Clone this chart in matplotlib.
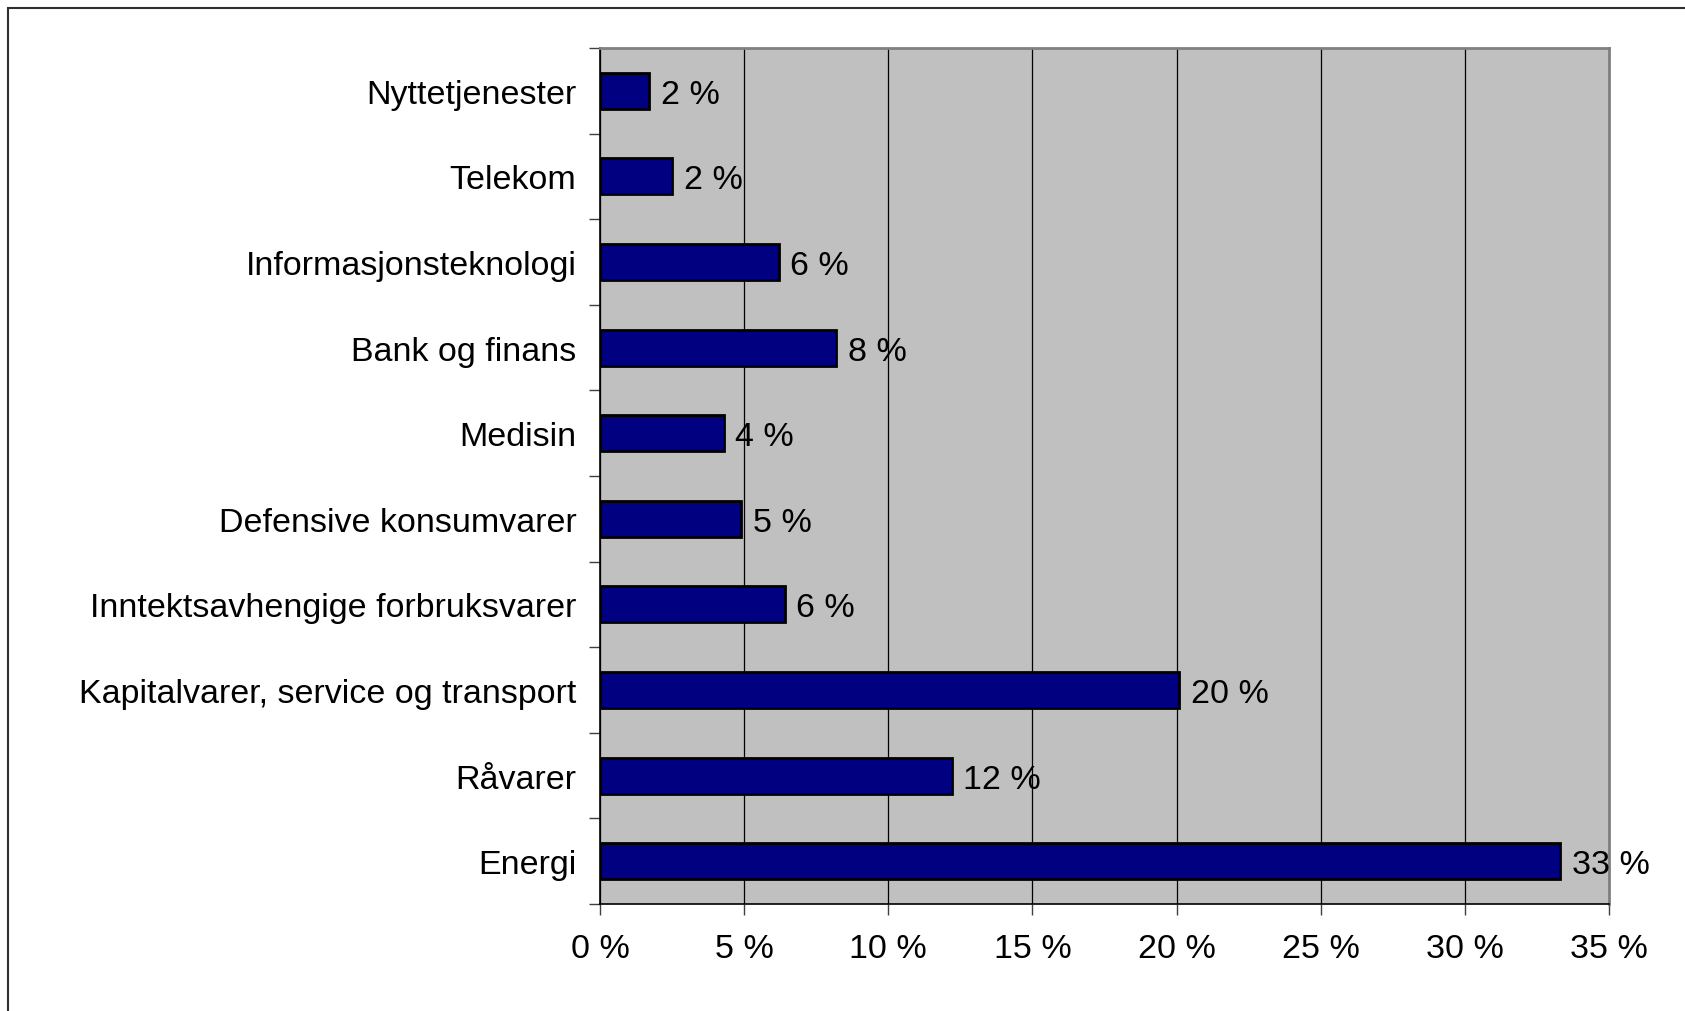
import matplotlib.pyplot as plt
from matplotlib.patches import Rectangle

plt.rcParams['font.family'] = ['Liberation Sans', 'DejaVu Sans']

# Data (bottom to top)
sectors = ['Energi', 'Råvarer', 'Kapitalvarer, service og transport',
           'Inntektsavhengige forbruksvarer', 'Defensive konsumvarer',
           'Medisin', 'Bank og finans', 'Informasjonsteknologi',
           'Telekom', 'Nyttetjenester']
shares = [33.3, 12.2, 20.1, 6.4, 4.9, 4.3, 8.2, 6.2, 2.5, 1.7]
xticks = [0, 5, 10, 15, 20, 25, 30, 35]

fig = plt.figure(figsize=(16.85, 10.12), dpi=100)
ax = fig.add_axes([600 / 1685, 1 - 905 / 1012, 1009 / 1685, 856 / 1012])
ax.set_facecolor('#C0C0C0')

pos = list(range(len(sectors)))
ax.barh(pos, shares, height=0.42, color='#000080', edgecolor='black',
        linewidth=2, zorder=3)

for y, v in zip(pos, shares):
    ax.text(v + 0.4, y, f'{v:.0f} %', va='center_baseline', ha='left',
            fontsize=24.5, zorder=4)

ax.set_xlim(0, 35)
ax.set_ylim(-0.5, len(sectors) - 0.5)
ax.set_xticks(xticks)
ax.set_xticklabels([f'{t} %' for t in xticks], fontsize=24.5)
ax.xaxis.grid(True, color='black', linewidth=0.9, zorder=1)
ax.set_axisbelow(True)

ax.set_yticks(pos)
ax.set_yticklabels(sectors, fontsize=24.5)
ax.set_yticks([p + 0.5 for p in pos[:-1]] + [-0.5, len(sectors) - 0.5], minor=True)
ax.tick_params(axis='y', which='major', length=0, pad=17)
ax.tick_params(axis='y', which='minor', length=8, width=1, color='#404040')
ax.tick_params(axis='x', length=8, width=1, pad=13, color='#404040')

for s in ['left', 'bottom']:
    ax.spines[s].set_color('black')
    ax.spines[s].set_linewidth(1.2)
for s in ['top', 'right']:
    ax.spines[s].set_color('#808080')
    ax.spines[s].set_linewidth(2)

# outer frame of the chart area
fig.patches.append(Rectangle((8 / 1685, -0.05), 1.2, 1 - 9 / 1012 + 0.05,
                             transform=fig.transFigure, fill=False,
                             edgecolor='#303030', linewidth=1.5))

plt.savefig('out.png', dpi=100)
